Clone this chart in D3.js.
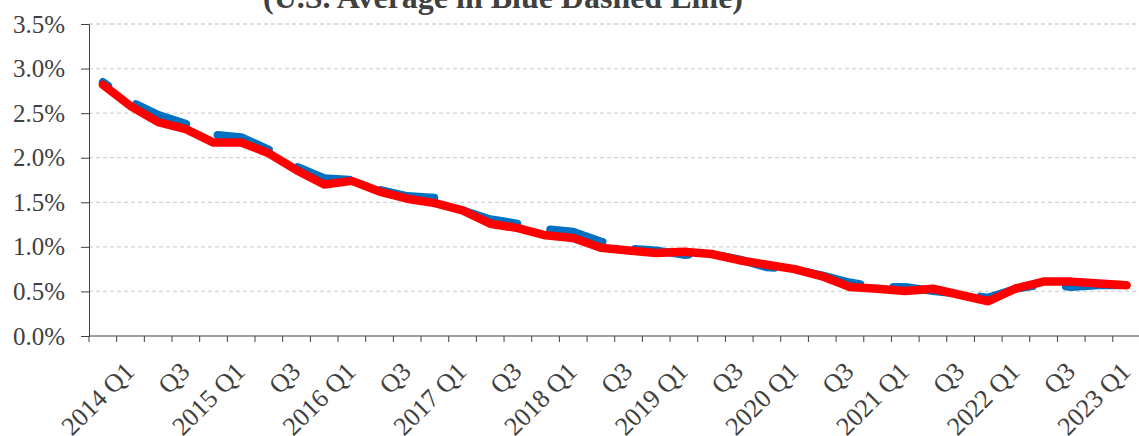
<!DOCTYPE html>
<html>
<head>
<meta charset="utf-8">
<script src="https://cdn.jsdelivr.net/npm/d3@7"></script>
<style>
    html, body { margin: 0; padding: 0; background: #ffffff; }
    svg { display: block; }
    .tick-label { font-family: "Liberation Serif", "Times New Roman", serif; fill: #404040; }
</style>
</head>
<body>
<div id="chart"></div>
<script>
// 数据
const quarters = [
    "2014 Q1", "2014 Q2", "2014 Q3", "2014 Q4",
    "2015 Q1", "2015 Q2", "2015 Q3", "2015 Q4",
    "2016 Q1", "2016 Q2", "2016 Q3", "2016 Q4",
    "2017 Q1", "2017 Q2", "2017 Q3", "2017 Q4",
    "2018 Q1", "2018 Q2", "2018 Q3", "2018 Q4",
    "2019 Q1", "2019 Q2", "2019 Q3", "2019 Q4",
    "2020 Q1", "2020 Q2", "2020 Q3", "2020 Q4",
    "2021 Q1", "2021 Q2", "2021 Q3", "2021 Q4",
    "2022 Q1", "2022 Q2", "2022 Q3", "2022 Q4",
    "2023 Q1", "2023 Q2"
];
// U.S. average (blue dashed), percent
const usAverage = [
    2.85, 2.63, 2.48, 2.38, 2.26, 2.23, 2.09, 1.90,
    1.77, 1.75, 1.64, 1.57, 1.55, 1.41, 1.31, 1.26,
    1.20, 1.17, 1.06, 0.98, 0.96, 0.91, 0.92, 0.86,
    0.77, 0.75, 0.68, 0.60, 0.55, 0.55, 0.505, 0.47,
    0.43, 0.53, 0.58, 0.55, 0.57, 0.57
];
// local series (red), percent
const localRate = [
    2.82, 2.58, 2.40, 2.32, 2.17, 2.17, 2.05, 1.86,
    1.70, 1.74, 1.62, 1.54, 1.49, 1.41, 1.26, 1.21,
    1.13, 1.10, 0.99, 0.96, 0.93, 0.945, 0.92, 0.85,
    0.80, 0.75, 0.67, 0.55, 0.53, 0.505, 0.53, 0.46,
    0.39, 0.535, 0.61, 0.61, 0.59, 0.57
];
const yTicks = [0, 0.5, 1.0, 1.5, 2.0, 2.5, 3.0, 3.5];
const titleText = "(U.S. Average in Blue Dashed Line)";

function chart(){
    const width = 1139, height = 436;
    const left = 89, top = 24, bottom = 336;
    const bandW = 27.67;

    const svg = d3.select("#chart")
        .append("svg")
        .attr("width", width)
        .attr("height", height)
        .attr("viewBox", [0, 0, width, height]);

    // 比例尺
    const x = d3.scaleBand()
        .domain(quarters)
        .range([left, left + bandW * quarters.length])
        .padding(0);
    const y = d3.scaleLinear()
        .domain([0, 3.5])
        .range([bottom, top]);

    // 网格线
    svg.append("g")
        .selectAll("line")
        .data(yTicks.filter(d => d > 0))
        .join("line")
        .attr("x1", left)
        .attr("x2", width + 5)
        .attr("y1", d => y(d))
        .attr("y2", d => y(d))
        .attr("stroke", "#d4d4d4")
        .attr("stroke-width", 1.3)
        .attr("stroke-dasharray", "4,3");

    // y轴
    const yAxis = svg.append("g")
        .attr("transform", `translate(${left},0)`)
        .call(d3.axisLeft(y)
            .tickValues(yTicks)
            .tickSize(8)
            .tickPadding(16)
            .tickFormat(d => d3.format(".1f")(d) + "%"));
    yAxis.select(".domain").attr("stroke", "#404040");
    yAxis.selectAll(".tick line").attr("stroke", "#404040");
    yAxis.selectAll(".tick text")
        .attr("class", "tick-label")
        .style("font-size", "25px")
        .attr("fill", "#404040");

    // x轴
    const xAxis = svg.append("g")
        .attr("transform", `translate(0,${bottom})`);
    xAxis.append("line")
        .attr("x1", left)
        .attr("x2", width + 5)
        .attr("stroke", "#404040");
    const edges = d3.range(quarters.length + 1).map(i => left + bandW * i);
    xAxis.selectAll(".edge")
        .data(edges)
        .join("line")
        .attr("class", "edge")
        .attr("x1", d => d)
        .attr("x2", d => d)
        .attr("y1", 0)
        .attr("y2", 6)
        .attr("stroke", "#404040");
    xAxis.selectAll(".tick-label")
        .data(quarters.filter((d, i) => i % 2 === 0))
        .join("text")
        .attr("class", "tick-label")
        .style("font-size", "26px")
        .attr("text-anchor", "end")
        .attr("transform", d => `translate(${x(d) + x.bandwidth() / 2 + 33},37) rotate(-45)`)
        .text(d => d.endsWith("Q1") ? d : d.slice(5));

    // 折线
    const line = d3.line()
        .x((d, i) => x(quarters[i]) + x.bandwidth() / 2)
        .y(d => y(d));
    svg.append("path")
        .datum(usAverage)
        .attr("d", line)
        .attr("fill", "none")
        .attr("stroke", "#0070C0")
        .attr("stroke-width", 8)
        .attr("stroke-linecap", "round")
        .attr("stroke-linejoin", "round")
        .attr("stroke-dasharray", "54,33.5")
        .attr("stroke-dashoffset", 47.5);
    svg.append("path")
        .datum(localRate)
        .attr("d", line)
        .attr("fill", "none")
        .attr("stroke", "#FF0000")
        .attr("stroke-width", 8.5)
        .attr("stroke-linecap", "round")
        .attr("stroke-linejoin", "round");

    // 标题 (上半部分被裁掉)
    svg.append("text")
        .attr("x", 503)
        .attr("y", 7.5)
        .attr("text-anchor", "middle")
        .attr("textLength", 480)
        .attr("lengthAdjust", "spacingAndGlyphs")
        .style("font-family", "'Liberation Serif', 'Times New Roman', serif")
        .style("font-weight", "bold")
        .style("font-size", "31px")
        .attr("fill", "#404040")
        .text(titleText);
}
chart();
</script>
</body>
</html>
